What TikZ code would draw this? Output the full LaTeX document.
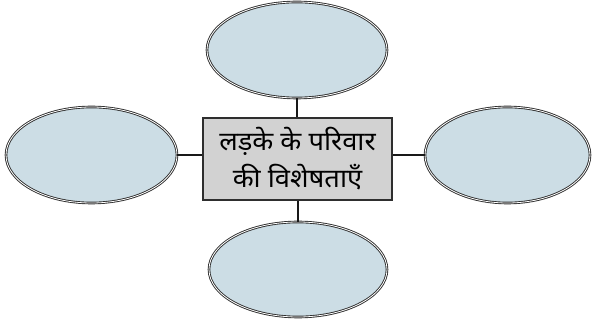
\documentclass[tikz,border=0pt]{standalone}
\usepackage{fontspec}
\usetikzlibrary{shapes.geometric}
\newfontfamily\devfont[Script=Devanagari,FakeStretch=1.05]{Noto Sans}
\definecolor{ellfill}{HTML}{CCDDE5}
\definecolor{boxfill}{HTML}{D2D2D2}
\definecolor{edge}{HTML}{2E2E2E}
\begin{document}
\begin{tikzpicture}[x=1pt,y=-1pt,
  oval/.style={ellipse,fill=ellfill,draw=edge,double=white,double distance=0.8pt,line width=0.9pt,inner sep=0pt},
  mainbox/.style={rectangle,fill=boxfill,draw=edge,line width=1.4pt,minimum width=189pt,minimum height=82pt,align=center,font=\devfont\fontsize{26}{37}\selectfont,inner sep=0pt},
  link/.style={draw=black!90,line width=1.6pt}]
\useasboundingbox (0,0) rectangle (594,320);
\node[mainbox] (c) at (297.5,159) {लड़के के परिवार\\की विशेषताएँ};
\node[oval,minimum width=180pt,minimum height=96pt] (t) at (297,50) {};
\node[oval,minimum width=171pt,minimum height=96pt] (l) at (91.5,155) {};
\node[oval,minimum width=165pt,minimum height=96pt] (r) at (507.5,155) {};
\node[oval,minimum width=178pt,minimum height=95pt] (b) at (298,269.5) {};
\draw[link] (t.south) -- (t.south |- c.north);
\draw[link] (l.east) -- (l.east -| c.west);
\draw[link] (r.west) -- (r.west -| c.east);
\draw[link] (c.south -| b.north) -- (b.north);
\end{tikzpicture}
\end{document}
